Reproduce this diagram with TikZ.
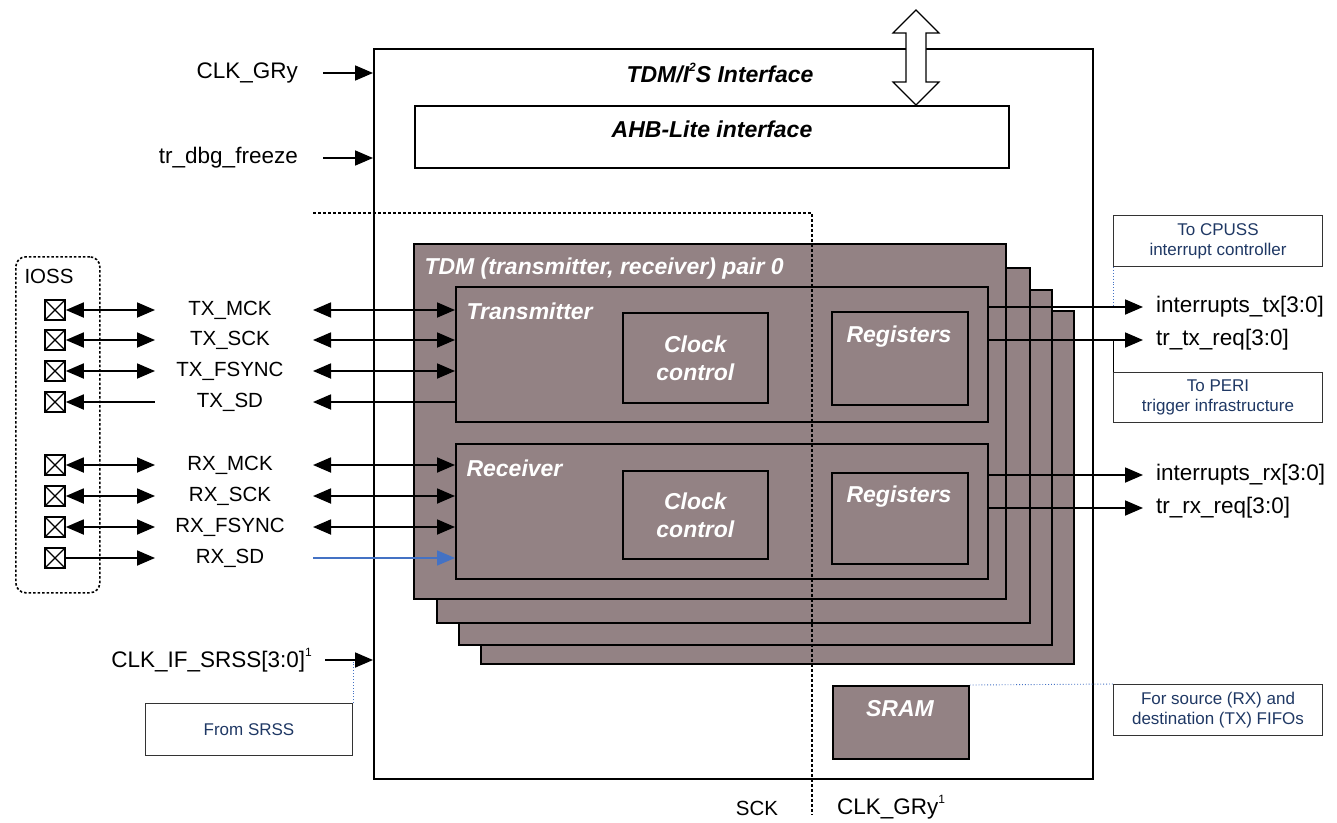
\documentclass[tikz,border=0pt]{standalone}
\usepackage{fontspec}
\setmainfont{Liberation Sans}
\usepackage{tikz}
\usetikzlibrary{arrows.meta}
\usetikzlibrary{positioning}
\definecolor{tdmfill}{RGB}{147,130,132}
\definecolor{noteblue}{RGB}{31,56,100}
\definecolor{wireblue}{RGB}{68,114,196}
\newcommand{\sigfont}{\fontsize{22.5}{26}\selectfont}
\newcommand{\pinfont}{\fontsize{20.5}{24}\selectfont}
\newcommand{\blkfont}{\fontsize{23}{28}\selectfont\bfseries\itshape}
\newcommand{\notefont}{\fontsize{17}{20}\selectfont}
\newcommand{\upnum}[1]{\raisebox{0.5em}{\fontsize{12}{12}\selectfont #1}}
\tikzset{
  >={Triangle[length=18pt,width=15pt]},
  wire/.style={line width=1.8pt},
  outer/.style={draw, line width=1.5pt, anchor=north west, inner sep=0},
  tdm/.style={draw, line width=1.8pt, fill=tdmfill, anchor=north west, inner sep=0,
      text=white, font=\blkfont, align=center},
  note/.style={draw=black!80, line width=1pt, anchor=north west, inner sep=0,
      align=center, font=\notefont, text=noteblue},
  link/.style={wireblue, dotted, line width=0.9pt},
  dots/.style={line width=2pt, dash pattern=on 2.5pt off 2.5pt},
  pad/.style={draw, line width=1.6pt, minimum size=20pt, inner sep=0,
      path picture={
        \draw[line width=1.2pt] (path picture bounding box.south west) -- (path picture bounding box.north east);
        \draw[line width=1.2pt] (path picture bounding box.north west) -- (path picture bounding box.south east);
      }},
  pin/.style={font=\pinfont},
  inlbl/.style={font=\sigfont, anchor=east, inner xsep=25pt},
  outlbl/.style={font=\sigfont, anchor=west, inner xsep=13pt},
}
\begin{document}
\begin{tikzpicture}[x=1pt, y=-1pt]
  \useasboundingbox (0,0) rectangle (1337,822);

  % interface frame
  \node[outer, minimum width=719pt, minimum height=730pt] (main) at (373,48) {};
  \node[font=\blkfont] (title) at (720,73) {TDM/I\upnum{2}S Interface};
  \node[outer, minimum width=594pt, minimum height=62pt] (ahb) at (414,105) {};
  \node[font=\blkfont] (ahbtxt) at (712,129) {AHB-Lite interface};
  \draw[line width=1.2pt, fill=white] (906,33) -- (893,33) -- (916,10) -- (939,33) -- (926,33)
    -- (926,82) -- (939,82) -- (916,105) -- (893,82) -- (906,82) -- cycle;

  % stacked pairs
  \node[tdm, minimum width=593pt, minimum height=353pt] (pair3) at (480,310) {};
  \node[tdm, minimum width=593pt, minimum height=355pt] (pair2) at (458,289) {};
  \node[tdm, minimum width=593pt, minimum height=355pt] (pair1) at (436,267) {};
  \node[tdm, minimum width=592pt, minimum height=355pt] (pair0) at (413,243) {};
  \node[font=\blkfont, text=white, anchor=west] (pairtxt) at (421,269)
    {TDM (transmitter, receiver) pair 0};

  \node[tdm, minimum width=532pt, minimum height=135pt] (tx) at (455,286) {};
  \node[font=\blkfont, text=white, anchor=west] (txtxt) at (463,311) {Transmitter};
  \node[tdm, minimum width=145pt, minimum height=90pt] (txclk) at (622,312) {Clock\\control};
  \node[tdm, minimum width=136pt, minimum height=93pt] (txreg) at (831,311) {};
  \node[font=\blkfont, text=white] (txregtxt) at (899,337) {Registers};

  \node[tdm, minimum width=532pt, minimum height=135pt] (rx) at (455,443) {};
  \node[font=\blkfont, text=white, anchor=west] (rxtxt) at (463,468) {Receiver};
  \node[tdm, minimum width=145pt, minimum height=88pt] (rxclk) at (622,470) {Clock\\control};
  \node[tdm, minimum width=136pt, minimum height=91pt] (rxreg) at (831,472) {};
  \node[font=\blkfont, text=white] (rxregtxt) at (899,497) {Registers};

  \node[tdm, minimum width=136pt, minimum height=73pt] (sram) at (832,685) {};
  \node[font=\blkfont, text=white] (sramtxt) at (900,709) {SRAM};

  % clock domain split
  \coordinate (dotl) at (313,213);
  \coordinate (dotc) at (812,213);
  \coordinate (dotb) at (812,815);
  \draw[dots] (dotl) -- (dotc) -- (dotb);
  \node[pin] (sck) at (757,808) {SCK};
  \node[font=\sigfont] (clkgryb) at (891,807) {CLK\_GRy\upnum{1}};

  % inputs on the left
  \node[inlbl] (clkgry) at (323,73) {CLK\_GRy};
  \draw[wire, ->] (clkgry.east) -- (clkgry.east -| main.west);
  \node[inlbl] (dbg) at (323,158) {tr\_dbg\_freeze};
  \draw[wire, ->] (dbg.east) -- (dbg.east -| main.west);
  \node[inlbl, inner xsep=13pt] (clkif) at (325,660) {CLK\_IF\_SRSS[3:0]\upnum{1}};
  \draw[wire, ->] (clkif.east) -- (clkif.east -| main.west);

  % IOSS pads
  \node[draw, line width=1.6pt, dash pattern=on 2.5pt off 2pt, rounded corners=10pt,
    minimum width=84pt, minimum height=336pt, anchor=north west] (ioss) at (15,256) {};
  \node[pin] (iosstxt) at (49,276) {IOSS};
  \coordinate (lpin) at (155,0);
  \coordinate (rpin) at (313,0);

  \node[pad] (ptxmck) at (55,310) {};
  \node[pad] (ptxsck) at (55,340) {};
  \node[pad] (ptxfs) at (55,371) {};
  \node[pad] (ptxsd) at (55,402) {};
  \node[pad] (prxmck) at (55,465) {};
  \node[pad] (prxsck) at (55,496) {};
  \node[pad] (prxfs) at (55,527) {};
  \node[pad] (prxsd) at (55,558) {};

  \node[pin] (txmck) at (230,310) {TX\_MCK};
  \node[pin] (txsck) at (230,340) {TX\_SCK};
  \node[pin] (txfs) at (230,371) {TX\_FSYNC};
  \node[pin] (txsd) at (230,402) {TX\_SD};
  \node[pin] (rxmck) at (230,465) {RX\_MCK};
  \node[pin] (rxsck) at (230,496) {RX\_SCK};
  \node[pin] (rxfs) at (230,527) {RX\_FSYNC};
  \node[pin] (rxsd) at (230,558) {RX\_SD};

  \draw[wire, <->] (ptxmck) -- (ptxmck -| lpin);
  \draw[wire, <->] (ptxsck) -- (ptxsck -| lpin);
  \draw[wire, <->] (ptxfs) -- (ptxfs -| lpin);
  \draw[wire, <-] (ptxsd) -- (ptxsd -| lpin);
  \draw[wire, <->] (prxmck) -- (prxmck -| lpin);
  \draw[wire, <->] (prxsck) -- (prxsck -| lpin);
  \draw[wire, <->] (prxfs) -- (prxfs -| lpin);
  \draw[wire, ->] (prxsd) -- (prxsd -| lpin);

  \draw[wire, <->] (txmck -| rpin) -- (txmck -| tx.west);
  \draw[wire, <->] (txsck -| rpin) -- (txsck -| tx.west);
  \draw[wire, <->] (txfs -| rpin) -- (txfs -| tx.west);
  \draw[wire, <-] (txsd -| rpin) -- (txsd -| tx.west);
  \draw[wire, <->] (rxmck -| rpin) -- (rxmck -| rx.west);
  \draw[wire, <->] (rxsck -| rpin) -- (rxsck -| rx.west);
  \draw[wire, <->] (rxfs -| rpin) -- (rxfs -| rx.west);
  \draw[wire, ->, wireblue, line width=1.4pt] (rxsd -| rpin) -- (rxsd -| rx.west);

  % outputs on the right
  \node[outlbl] (itx) at (1143,307) {interrupts\_tx[3:0]};
  \node[outlbl] (ttx) at (1143,340) {tr\_tx\_req[3:0]};
  \node[outlbl] (irx) at (1143,475) {interrupts\_rx[3:0]};
  \node[outlbl] (trx) at (1143,508) {tr\_rx\_req[3:0]};
  \draw[wire, ->] (tx.east |- itx) -- (itx.west);
  \draw[wire, ->] (tx.east |- ttx) -- (ttx.west);
  \draw[wire, ->] (rx.east |- irx) -- (irx.west);
  \draw[wire, ->] (rx.east |- trx) -- (trx.west);

  % notes
  \node[note, minimum width=209pt, minimum height=51pt] (cpuss) at (1113,215)
    {To CPUSS\\interrupt controller};
  \node[note, minimum width=209pt, minimum height=50pt] (peri) at (1113,372)
    {To PERI\\trigger infrastructure};
  \node[note, minimum width=209pt, minimum height=51pt] (fifo) at (1113,684)
    {For source (RX) and\\destination (TX) FIFOs};
  \node[note, minimum width=207pt, minimum height=52pt] (srss) at (145,703) {From SRSS};
  \draw[link] (cpuss.south west) -- (cpuss.south west |- itx);
  \draw[line width=1pt] (peri.north west) -- (peri.north west |- ttx);
  \draw[link] (sram.north east) -- (fifo.north west);
  \draw[link] (srss.north east) -- (srss.north east |- clkif);
\end{tikzpicture}
\end{document}
